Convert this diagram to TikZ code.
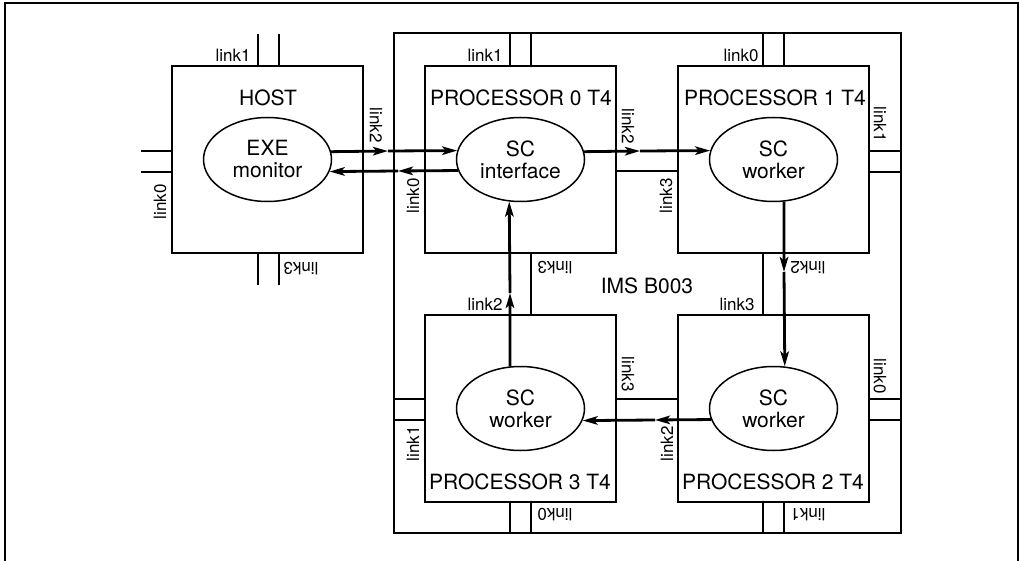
\documentclass[tikz,border=0pt]{standalone}
\usepackage{fontspec}
\setmainfont{TeX Gyre Heros}
\usetikzlibrary{arrows.meta,shapes.geometric}
\begin{document}
\begin{tikzpicture}[x=1pt,y=-1pt,
  box/.style={draw, line width=1.5pt, rectangle, minimum width=191pt, minimum height=187pt, inner sep=0pt, outer sep=0pt, anchor=north west},
  wire/.style={line width=1.5pt},
  arr/.style={line width=2.8pt, -{Stealth[length=15pt,width=8.5pt,inset=3.5pt]}},
  proc/.style={ellipse, draw, line width=1.5pt, minimum width=128pt, minimum height=84pt, inner sep=0pt, align=center, font=\fontsize{21}{22}\selectfont},
  title/.style={font=\fontsize{21}{24}\selectfont, inner sep=0pt},
  lnk/.style={font=\fontsize{17}{18}\selectfont, inner sep=0pt},
]
\useasboundingbox (0,0) rectangle (1019,561);
% outer frame
\draw[line width=1.8pt] (5,561) -- (5,3) -- (1018,3) -- (1018,561);

% board
\node[draw, line width=1.5pt, rectangle, minimum width=507pt, minimum height=500pt, inner sep=0pt, outer sep=0pt, anchor=north west] (board) at (394,33) {};

% boxes
\node[box] (host) at (172,66) {};
\node[box] (p0) at (425,66) {};
\node[box] (p1) at (678,66) {};
\node[box] (p3) at (425,315) {};
\node[box] (p2) at (678,315) {};

% titles
\node[title] (thost) at (268,98) {HOST};
\node[title] (tp0) at (521,98) {PROCESSOR 0 T4};
\node[title] (tp1) at (775,98) {PROCESSOR 1 T4};
\node[title] (tp3) at (520,482) {PROCESSOR 3 T4};
\node[title] (tp2) at (773,482) {PROCESSOR 2 T4};
\node[title] (ims) at (647,286) {IMS B003};

% processes
\node[proc] (exe) at (267.5,159.5) {EXE\\monitor};
\node[proc] (sc0) at (520.5,159.5) {SC\\interface};
\node[proc] (sc1) at (773.5,159.5) {SC\\worker};
\node[proc] (sc3) at (520.5,408.5) {SC\\worker};
\node[proc] (sc2) at (773.5,408.5) {SC\\worker};

% HOST link stubs
\draw[wire] (258,34) -- (258,66) (279,34) -- (279,66);
\draw[wire] (258,253) -- (258,285) (279,253) -- (279,285);
\draw[wire] (141,151) -- (172,151) (141,172) -- (172,172);
% P0
\draw[wire] (510,33) -- (510,66) (531,33) -- (531,66);
\draw[wire] (531,253) -- (531,315);
\draw[wire] (616,171) -- (678,171);
% P1
\draw[wire] (763,33) -- (763,66) (784,33) -- (784,66);
\draw[wire] (869,151) -- (901,151) (869,172) -- (901,172);
\draw[wire] (763,253) -- (763,315);
% P2
\draw[wire] (869,399) -- (901,399) (869,420) -- (901,420);
\draw[wire] (763,502) -- (763,533) (784,502) -- (784,533);
\draw[wire] (616,399) -- (678,399);
% P3
\draw[wire] (394,399) -- (425,399) (394,420) -- (425,420);
\draw[wire] (510,502) -- (510,533) (531,502) -- (531,533);

% mid arrow tips
\coordinate (m1) at (388,151);
\coordinate (m2) at (398,171);
\coordinate (m3) at (640,151);
\coordinate (m4) at (784,272);
\coordinate (m5) at (655,420);
\coordinate (m6) at (510,293);

% arrows
\draw[arr] (exe.7.72) -- (m1);
\draw[arr] (m1) -- (sc0.172.28);
\draw[arr] (sc0.190.58) -- (m2);
\draw[arr] (m2) -- (exe.349.42);
\draw[arr] (sc0.7.72) -- (m3);
\draw[arr] (m3) -- (sc1.172.28);
\draw[arr] (sc1.284.22) -- (m4);
\draw[arr] (m4) -- (sc2.75.78);
\draw[arr] (sc2.190.58) -- (m5);
\draw[arr] (m5) -- (sc3.349.42);
\draw[arr] (sc3.104.22) -- (m6);
\draw[arr] (m6) -- (sc0.255.78);

% link labels
\node[lnk] (lh1) at (233,55) {link1};
\node[lnk, rotate=180] (lh3) at (301,269) {link3};
\node[lnk, rotate=90] (lh0) at (160,202) {link0};
\node[lnk, rotate=-90] (lh2) at (376,125) {link2};

\node[lnk] (l01) at (485,55) {link1};
\node[lnk, rotate=90] (l00) at (413,196) {link0};
\node[lnk, rotate=-90] (l02) at (628,126) {link2};
\node[lnk, rotate=180] (l03) at (555,268) {link3};

\node[lnk] (l10) at (741,55) {link0};
\node[lnk, rotate=90] (l13) at (666,196) {link3};
\node[lnk, rotate=-90] (l11) at (880,124) {link1};
\node[lnk, rotate=180] (l12) at (808,268) {link2};

\node[lnk] (l32) at (485,304) {link2};
\node[lnk] (l23) at (737,304) {link3};
\node[lnk, rotate=-90] (l33) at (628,374) {link3};
\node[lnk, rotate=90] (l22) at (667,444) {link2};
\node[lnk, rotate=90] (l31) at (413,444) {link1};
\node[lnk, rotate=-90] (l20) at (880,376) {link0};
\node[lnk, rotate=180] (l30) at (555,515) {link0};
\node[lnk, rotate=180] (l21) at (808,515) {link1};
\end{tikzpicture}
\end{document}
